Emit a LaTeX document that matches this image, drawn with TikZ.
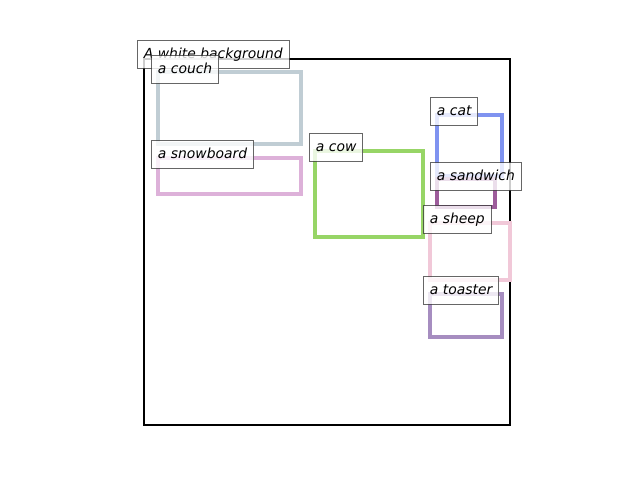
\documentclass[tikz,border=0pt]{standalone}
\usepackage{fontspec}
\setmainfont{DejaVu Sans}
\usepackage{xcolor}
\usepackage{tikz}
\usetikzlibrary{positioning}

\definecolor{couchc}{HTML}{C0CDD4}
\definecolor{snowc}{HTML}{DDB1D9}
\definecolor{cowc}{HTML}{97D566}
\definecolor{catc}{HTML}{7F93F0}
\definecolor{sandc}{HTML}{9D5C9B}
\definecolor{sheepc}{HTML}{F1C8D8}
\definecolor{toastc}{HTML}{A68DC0}

\begin{document}
\begin{tikzpicture}[
    x=0.72pt, y=-0.72pt,
    frame/.style={draw=black, line width=1.6pt},
    bbox/.style={line width=2.3pt},
    tag/.style={rectangle, draw=black!75, fill=white, fill opacity=0.8, text opacity=1, draw opacity=0.8, line width=0.8pt, anchor=north west, font=\itshape\normalsize, inner xsep=4.6pt, inner ysep=4.9pt, text height=7.8pt, text depth=2.4pt}
]

% page
\fill[white] (0,0) rectangle (640,480);

% outer frame
\draw[frame] (144,59) rectangle (510,425);

% boxes
\draw[bbox, couchc] (158,72) rectangle (301,144);
\draw[bbox, snowc] (158,158) rectangle (301,194);
\draw[bbox, cowc] (315,151) rectangle (423,237);
\draw[bbox, catc] (437,115) rectangle (502,176);
\draw[bbox, sandc] (437,179) rectangle (495,207);
\draw[bbox, sheepc] (430,223) rectangle (510,280);
\draw[bbox, toastc] (430,294) rectangle (502,337);

% labels
\node[tag] (bg) at (137,40) {A white background};
\node[tag] (couch) at (151,55) {a couch};
\node[tag] (snowboard) at (151,140) {a snowboard};
\node[tag] (cow) at (309,133) {a cow};
\node[tag] (cat) at (430,97) {a cat};
\node[tag] (sandwich) at (430,162) {a sandwich};
\node[tag] (sheep) at (423,205) {a sheep};
\node[tag] (toaster) at (423,276) {a toaster};

\end{tikzpicture}
\end{document}
